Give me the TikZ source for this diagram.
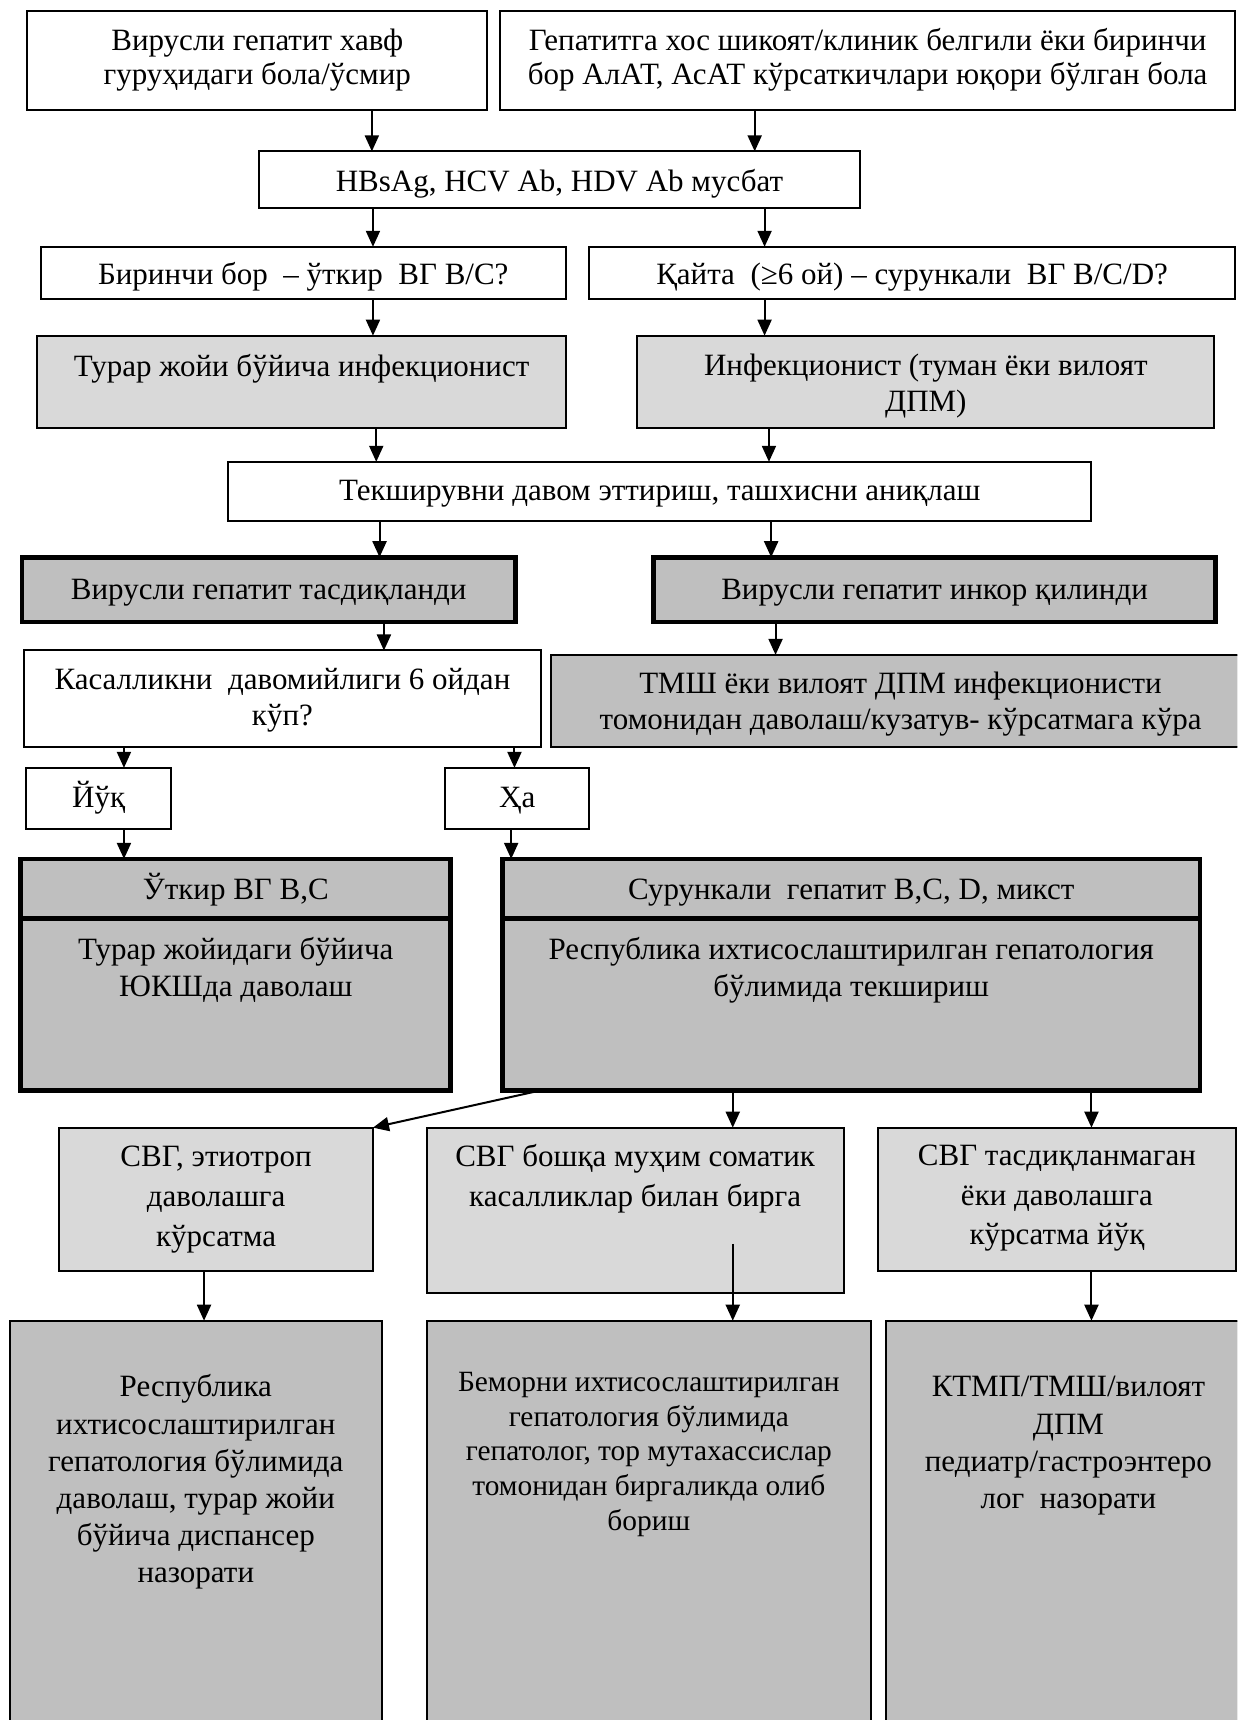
\documentclass[tikz,border=0pt]{standalone}
\usepackage{fontspec}
\setmainfont{Liberation Serif}
\usetikzlibrary{arrows.meta,fit}
\definecolor{lg}{HTML}{D9D9D9}
\definecolor{dg}{HTML}{BFBFBF}
\newcommand\mybox[9]{%
  \coordinate (#1-nw) at (#3,#4);
  \coordinate (#1-se) at (#5,#6);
  \node[#2, fit=(#1-nw)(#1-se)] (#1) {};
  \node[txt,#8] (#1-t) at ({(#3+#5)/2},#7) {\rule{0pt}{14pt}#9};
}
\begin{document}
\begin{tikzpicture}[x=0.5483pt,y=-0.5483pt,
  thin/.style={draw=black, line width=1pt, fill=white, inner sep=0pt, outer sep=0pt},
  thinl/.style={thin, fill=lg},
  thind/.style={thin, fill=dg},
  thick/.style={draw=black, line width=2.4pt, fill=dg, inner sep=0pt, outer sep=0pt},
  txt/.style={inner sep=0pt, align=center, anchor=north, yshift=14pt},
  s31/.style={font=\fontsize{15.5}{17}\selectfont},
  s33/.style={font=\fontsize{15.5}{18.1}\selectfont},
  s34/.style={font=\fontsize{15.5}{18.6}\selectfont},
  s36/.style={font=\fontsize{15.5}{19.9}\selectfont},
  small/.style={font=\fontsize{14.7}{17.4}\selectfont},
  arr/.style={line width=1pt, -{Triangle[length=8pt,width=7pt]}}]
\useasboundingbox (0,0) rectangle (1128,1568);
\clip (0,0) rectangle (1128,1568);
\mybox{A}{thin}{25}{10}{444}{100}{46}{s31}{Вирусли гепатит хавф\\гуруҳидаги бола/ўсмир}
\mybox{B}{thin}{456}{10}{1126}{100}{46}{s31}{Гепатитга хос шикоят/клиник белгили ёки биринчи\\бор АлАТ, АсАТ кўрсаткичлари юқори бўлган бола}
\mybox{H}{thin}{236}{138}{784}{190}{174}{s33}{HBsAg, HCV Ab, HDV Ab мусбат}
\mybox{C1}{thin}{37}{225}{516}{273}{259}{s33}{Биринчи бор\ \ – ўткир\ \ ВГ В/С?}
\mybox{C2}{thin}{537}{225}{1126}{273}{259}{s33}{Қайта\ \ (≥6 ой) – сурункали\ \ ВГ В/С/D?}
\mybox{T1}{thinl}{34}{306}{516}{390}{343}{s33}{Турар жойи бўйича инфекционист}
\mybox{T2}{thinl}{581}{306}{1107}{390}{342}{s33}{Инфекционист (туман ёки вилоят\\ДПМ)}
\mybox{K}{thin}{208}{421}{995}{475}{456}{s33}{Текширувни давом эттириш, ташхисни аниқлаш}
\mybox{V1}{thick}{20}{508}{470}{567}{546}{s33}{Вирусли гепатит тасдиқланди}
\mybox{V2}{thick}{596}{508}{1108}{567}{546}{s33}{Вирусли гепатит инкор қилинди}
\mybox{D}{thin}{22}{593}{493}{681}{628}{s33}{Касалликни\ \ давомийлиги 6 ойдан\\кўп?}
\mybox{M}{thind}{502}{597}{1140}{681}{632}{s33}{ТМШ ёки вилоят ДПМ инфекционисти\\томонидан даволаш/кузатув- кўрсатмага кўра}
\mybox{Y}{thin}{24}{700}{156}{756}{736}{s33}{Йўқ}
\mybox{X}{thin}{406}{700}{537}{756}{736}{s33}{Ҳа}
\mybox{U}{thick}{19}{783}{411}{837}{820}{s33}{Ўткир ВГ В,С}
\mybox{UB}{thick}{19}{837}{411}{994}{874}{s34}{Турар жойидаги бўйича\\ЮКШда даволаш}
\mybox{S}{thick}{458}{783}{1094}{837}{820}{s33}{Сурункали\ \ гепатит В,С, D, микст}
\mybox{SB}{thick}{458}{837}{1094}{994}{874}{s34}{Республика ихтисослаштирилган гепатология\\бўлимида текшириш}
\mybox{G1}{thinl}{54}{1028}{340}{1159}{1063}{s36}{СВГ, этиотроп\\даволашга\\кўрсатма}
\mybox{G2}{thinl}{389}{1028}{769}{1179}{1063}{s36}{СВГ бошқа муҳим соматик\\касалликлар билан бирга}
\mybox{G3}{thinl}{800}{1028}{1127}{1159}{1062}{s36}{СВГ тасдиқланмаган\\ёки даволашга\\кўрсатма йўқ}
\mybox{R1}{thind}{9}{1204}{348}{1600}{1273}{s34}{Республика\\ихтисослаштирилган\\гепатология бўлимида\\даволаш, турар жойи\\бўйича диспансер\\назорати}
\mybox{R2}{thind}{389}{1204}{794}{1600}{1268}{small}{Беморни ихтисослаштирилган\\гепатология бўлимида\\гепатолог, тор мутахассислар\\томонидан биргаликда олиб\\бориш}
\mybox{R3}{thind}{808}{1204}{1140}{1600}{1273}{s34}{КТМП/ТМШ/вилоят\\ДПМ\\педиатр/гастроэнтеро\\лог\ \ назорати}
\coordinate (g2a) at (668,1134);
\draw[arr] (339,0 |- A.south) -- (339,0 |- H.north);
\draw[arr] (688,0 |- B.south) -- (688,0 |- H.north);
\draw[arr] (340,0 |- H.south) -- (340,0 |- C1.north);
\draw[arr] (697,0 |- H.south) -- (697,0 |- C2.north);
\draw[arr] (340,0 |- C1.south) -- (340,0 |- T1.north);
\draw[arr] (697,0 |- C2.south) -- (697,0 |- T2.north);
\draw[arr] (343,0 |- T1.south) -- (343,0 |- K.north);
\draw[arr] (701,0 |- T2.south) -- (701,0 |- K.north);
\draw[arr] (346,0 |- K.south) -- (346,0 |- V1.north);
\draw[arr] (703,0 |- K.south) -- (703,0 |- V2.north);
\draw[arr] (350,0 |- V1.south) -- (350,0 |- D.north);
\draw[arr] (707,0 |- V2.south) -- (707,0 |- M.north);
\draw[arr] (113,0 |- D.south) -- (113,0 |- Y.north);
\draw[arr] (469,0 |- D.south) -- (469,0 |- X.north);
\draw[arr] (113,0 |- Y.south) -- (113,0 |- U.north);
\draw[arr] (466,0 |- X.south) -- (466,0 |- S.north);
\draw[arr] (493,0 |- SB.south) -- (G1.north east);
\draw[arr] (668,0 |- SB.south) -- (668,0 |- G2.north);
\draw[arr] (995,0 |- SB.south) -- (995,0 |- G3.north);
\draw[arr] (186,0 |- G1.south) -- (186,0 |- R1.north);
\draw[arr] (g2a) -- (668,0 |- R2.north);
\draw[arr] (995,0 |- G3.south) -- (995,0 |- R3.north);
\end{tikzpicture}
\end{document}
